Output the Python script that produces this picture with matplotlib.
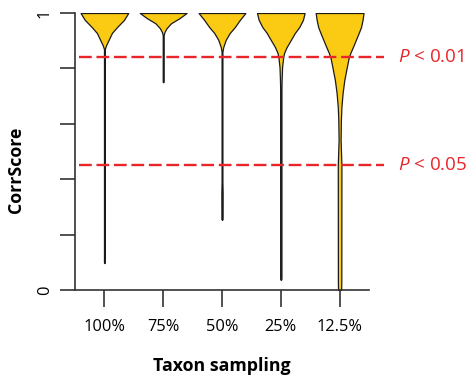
import matplotlib
matplotlib.use("Agg")
import matplotlib.pyplot as plt

# taxon sampling groups
groups = ["100%", "75%", "50%", "25%", "12.5%"]

# violin outlines: CorrScore level -> half width
lev_100 = [1.0, 0.975, 0.949, 0.928, 0.903, 0.884, 0.87, 0.10, 0.097]
hw_100 = [0.405, 0.333, 0.214, 0.128, 0.072, 0.029, 0.007, 0.007, 0]

lev_75 = [1.0, 0.981, 0.963, 0.945, 0.931, 0.92, 0.752, 0.75]
hw_75 = [0.398, 0.274, 0.133, 0.056, 0.021, 0.008, 0.008, 0]

lev_50 = [1.0, 0.975, 0.949, 0.928, 0.903, 0.877, 0.86, 0.39, 0.35, 0.256, 0.253]
hw_50 = [0.398, 0.303, 0.217, 0.132, 0.063, 0.021, 0.007, 0.007, 0.011, 0.01, 0]

lev_25 = [1.0, 0.975, 0.949, 0.928, 0.903, 0.877, 0.856, 0.838, 0.805, 0.758,
          0.73, 0.04, 0.036]
hw_25 = [0.405, 0.376, 0.313, 0.239, 0.171, 0.099, 0.056, 0.039, 0.022, 0.014,
         0.011, 0.011, 0]

lev_125 = [1.0, 0.975, 0.949, 0.928, 0.903, 0.877, 0.856, 0.838, 0.805, 0.758,
           0.711, 0.661, 0.614, 0.542, 0.451, 0.025, 0.0]
hw_125 = [0.407, 0.39, 0.364, 0.325, 0.277, 0.226, 0.183, 0.154, 0.123, 0.08,
          0.051, 0.031, 0.022, 0.017, 0.031, 0.029, 0.026]

levels = [lev_100, lev_75, lev_50, lev_25, lev_125]
widths = [hw_100, hw_75, hw_50, hw_25, hw_125]

# significance thresholds
thr_vals = [0.84, 0.452]
thr_labels = ["< 0.01", "< 0.05"]

plt.rcParams['font.family'] = ['Open Sans', 'DejaVu Sans']
plt.rcParams['mathtext.fontset'] = 'custom'
plt.rcParams['mathtext.it'] = 'Open Sans:italic'
plt.rcParams['mathtext.rm'] = 'Open Sans'

fig = plt.figure(figsize=(4.67, 3.82), dpi=100)
ax = fig.add_axes([75 / 467, 1 - 290 / 382, 294 / 467, 277 / 382])

fill = '#FBCB14'
for i, (lv, hw) in enumerate(zip(levels, widths)):
    x = i + 1
    ax.fill_betweenx(lv, [x - w for w in hw], [x + w for w in hw],
                     facecolor=fill, edgecolor='#1a1a1a', linewidth=0.9, zorder=2)

red = '#E8262A'
for v, lab in zip(thr_vals, thr_labels):
    ax.plot([0.568, 5.75], [v, v], color=red, lw=1.7, ls=(0, (5.4, 2.0)),
            clip_on=False, zorder=3)
    ax.text(6.0, v, "$\\it{P}$ " + lab, color=red, fontsize=13.5,
            va='center', ha='left', clip_on=False)

ax.set_xlim(0.5, 5.5)
ax.set_ylim(0, 1)
ax.set_xticks(range(1, 6))
ax.set_xticklabels(groups, fontsize=11.8)
ax.set_yticks([0, 0.2, 0.4, 0.6, 0.8, 1.0])
ax.set_yticklabels(["0", "", "", "", "", "1"], rotation=90, va='center', fontsize=11.8)
ax.tick_params(axis='x', length=12, width=1.2, color='#333333', pad=9)
ax.tick_params(axis='y', length=11, width=1.2, color='#333333', pad=5)
for s in ['top', 'right']:
    ax.spines[s].set_visible(False)
for s in ['left', 'bottom']:
    ax.spines[s].set_linewidth(1.2)
    ax.spines[s].set_color('#333333')

ax.set_ylabel("CorrScore", fontsize=12.8, fontweight='bold')
ax.yaxis.set_label_coords(-0.17, 0.433)
ax.set_xlabel("Taxon sampling", fontsize=12.8, fontweight='bold', labelpad=16)

fig.savefig("out.png", dpi=100)
